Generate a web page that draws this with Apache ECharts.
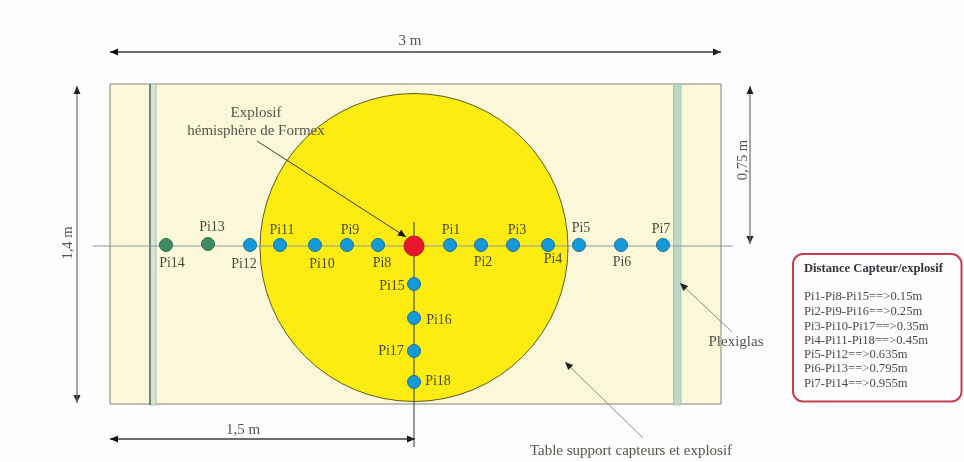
<!DOCTYPE html>
<html>
<head>
<meta charset="utf-8">
<title>Table support capteurs et explosif</title>
<script src="https://cdn.jsdelivr.net/npm/echarts@6/dist/echarts.min.js"></script>
<style>
  html, body { margin: 0; padding: 0; background: #fdfdfd; }
  #chart { width: 964px; height: 462px; filter: blur(0.6px); }
</style>
</head>
<body>
<div id="chart"></div>
<script>
const blueNames = ['Pi1', 'Pi2', 'Pi3', 'Pi4', 'Pi5', 'Pi6', 'Pi7', 'Pi8', 'Pi9', 'Pi10', 'Pi11', 'Pi12', 'Pi15', 'Pi16', 'Pi17', 'Pi18'];
const blueX = [450, 481, 513, 548, 579, 621, 663, 378, 347, 315, 280, 250, 414, 414, 414, 414];
const blueY = [245, 245, 245, 245, 245, 245, 245, 245, 245, 245, 245, 245, 284, 318, 351, 382];
const blueLabelX = [451, 483, 517, 553, 581, 622, 661, 382, 350, 322, 282, 244, 392, 439, 391, 438];
const blueLabelY = [230, 262, 230, 259, 228, 262, 229, 263, 230, 264, 230, 264, 286, 320, 351, 381];

const greenNames = ['Pi13', 'Pi14'];
const greenX = [208, 166];
const greenY = [244, 245];
const greenLabelX = [212, 172];
const greenLabelY = [227, 263];

const chargeX = [414];
const chargeY = [246];

const tableX = [110, 721];
const tableY = [84, 404];
const plexiLeftX = [150, 156];
const plexiRightX = [673.5, 681];
const plexiY = [84, 405];
const discCentre = [414, 247.5];
const discRadius = [154];

const axisH = [93, 733, 246];
const axisV = [414, 222, 447];

// x1, y1, x2, y2 (the head sits on x2, y2)
const dimArrows = [
  [110, 52, 721, 52],
  [721, 52, 110, 52],
  [110, 439, 415, 439],
  [415, 439, 110, 439],
  [257, 141, 406, 237]
];
const greyArrows = [
  [77, 86, 77, 403],
  [77, 403, 77, 86],
  [750, 86, 750, 244],
  [750, 244, 750, 86],
  [732, 332, 680, 283],
  [643, 438, 565, 362]
];

const noteText = ['3 m', '1,5 m', 'Explosif', 'hémisphère de Formex', 'Plexiglas', 'Table support capteurs et explosif'];
const noteX = [410, 243, 256, 256, 736, 631];
const noteY = [41, 430, 113, 131, 342, 451];

const sideText = ['1,4 m', '0,75 m'];
const sideX = [68, 743];
const sideY = [243, 160];

const boxX = [793, 961.5];
const boxY = [254, 401.5];
const boxTitle = ['Distance Capteur/explosif'];
const boxTitleX = [804];
const boxTitleY = [269];
const boxLines = [
  'Pi1-Pi8-Pi15==>0.15m',
  'Pi2-Pi9-Pi16==>0.25m',
  'Pi3-Pi10-Pi17==>0.35m',
  'Pi4-Pi11-Pi18==>0.45m',
  'Pi5-Pi12==>0.635m',
  'Pi6-Pi13==>0.795m',
  'Pi7-Pi14==>0.955m'
];
const boxLineX = [804, 804, 804, 804, 804, 804, 804];
const boxLineY = [297, 312, 327, 341, 355, 369, 384];

const serif = '"Liberation Serif", serif';

const rows = (...cols) => cols[0].map((_, i) => cols.map(c => c[i]));

const rectSeries = (xs, ys, z, style, radius) => ({
  type: 'custom',
  silent: true,
  z,
  data: [[xs[0], ys[0], xs[1], ys[1]]],
  renderItem: (params, api) => {
    const a = api.coord([api.value(0), api.value(1)]);
    const b = api.coord([api.value(2), api.value(3)]);
    return {
      type: 'rect',
      shape: { x: a[0], y: a[1], width: b[0] - a[0], height: b[1] - a[1], r: radius || 0 },
      style
    };
  }
});

const lineSeries = (data, z, stroke, width) => ({
  type: 'custom',
  silent: true,
  z,
  data,
  renderItem: (params, api) => {
    const a = api.coord([api.value(0), api.value(1)]);
    const b = api.coord([api.value(2), api.value(3)]);
    return {
      type: 'line',
      shape: { x1: a[0], y1: a[1], x2: b[0], y2: b[1] },
      style: { stroke, lineWidth: width }
    };
  }
});

const arrowSeries = (data, z, stroke, width, head) => ({
  type: 'custom',
  silent: true,
  z,
  data,
  renderItem: (params, api) => {
    const a = api.coord([api.value(0), api.value(1)]);
    const b = api.coord([api.value(2), api.value(3)]);
    const ang = Math.atan2(b[1] - a[1], b[0] - a[0]);
    const len = 8;
    const wing = 3.5;
    const bx = b[0] - Math.cos(ang) * len;
    const by = b[1] - Math.sin(ang) * len;
    const nx = -Math.sin(ang) * wing;
    const ny = Math.cos(ang) * wing;
    return {
      type: 'group',
      children: [
        { type: 'line', shape: { x1: a[0], y1: a[1], x2: b[0], y2: b[1] }, style: { stroke, lineWidth: width } },
        { type: 'polygon', shape: { points: [[b[0], b[1]], [bx + nx, by + ny], [bx - nx, by - ny]] }, style: { fill: head } }
      ]
    };
  }
});

const textSeries = (texts, xs, ys, z, font, fill, align, rotation) => ({
  type: 'custom',
  silent: true,
  z,
  data: rows(xs, ys),
  renderItem: (params, api) => {
    const p = api.coord([api.value(0), api.value(1)]);
    return {
      type: 'text',
      x: p[0],
      y: p[1],
      rotation: rotation || 0,
      style: { text: texts[params.dataIndex], x: 0, y: 0, font, fill, align, verticalAlign: 'middle' }
    };
  }
});

const dotSeries = (xs, ys, z, size, fill, border) => ({
  type: 'scatter',
  silent: true,
  z,
  symbol: 'circle',
  symbolSize: size,
  data: rows(xs, ys),
  itemStyle: { color: fill, borderColor: border, borderWidth: 1, opacity: 1 }
});

const discSeries = {
  type: 'custom',
  silent: true,
  z: 2,
  data: [[discCentre[0], discCentre[1], discRadius[0]]],
  renderItem: (params, api) => {
    const c = api.coord([api.value(0), api.value(1)]);
    const r = api.coord([api.value(0) + api.value(2), api.value(1)])[0] - c[0];
    return {
      type: 'circle',
      shape: { cx: c[0], cy: c[1], r },
      style: { fill: '#fdec12', stroke: '#5e5a1c', lineWidth: 1 }
    };
  }
};

const chart = echarts.init(document.getElementById('chart'));

chart.setOption({
  animation: false,
  backgroundColor: '#fdfdfd',
  grid: { left: 0, right: 0, top: 0, bottom: 0 },
  xAxis: { type: 'value', min: 0, max: 964, show: false },
  yAxis: { type: 'value', min: 0, max: 462, inverse: true, show: false },
  series: [
    rectSeries(tableX, tableY, 1, { fill: '#fbf8d9', stroke: '#85857a', lineWidth: 1 }),
    rectSeries(plexiLeftX, plexiY, 1, { fill: '#d6e6d6', stroke: '#a9bdb0', lineWidth: 1 }),
    rectSeries(plexiRightX, plexiY, 1, { fill: '#bfd9c9', stroke: '#a9c4b6', lineWidth: 1 }),
    lineSeries([[plexiLeftX[0], plexiY[0], plexiLeftX[0], plexiY[1]]], 1, '#4f5f58', 1.4),
    discSeries,
    lineSeries([[axisH[0], axisH[2], axisH[1], axisH[2]]], 3, '#8b9c9c', 1),
    lineSeries([[axisV[0], axisV[1], axisV[0], axisV[2]]], 3, '#55574a', 1.2),
    arrowSeries(dimArrows, 3, '#3c3c3c', 1, '#111'),
    arrowSeries(greyArrows, 3, '#8a8a86', 1, '#222'),
    dotSeries(blueX, blueY, 4, 13, '#149ad8', '#1b6f98'),
    dotSeries(greenX, greenY, 4, 13, '#3e8a62', '#2d6a4c'),
    dotSeries(chargeX, chargeY, 4, 20, '#e8172c', '#b01c24'),
    textSeries(blueNames, blueLabelX, blueLabelY, 5, '14px ' + serif, '#4a4a3c', 'center'),
    textSeries(greenNames, greenLabelX, greenLabelY, 5, '14px ' + serif, '#4a4a3c', 'center'),
    textSeries(noteText, noteX, noteY, 5, '15px ' + serif, '#55554c', 'center'),
    textSeries(sideText, sideX, sideY, 5, '14.5px ' + serif, '#55554c', 'center', Math.PI / 2),
    rectSeries(boxX, boxY, 6, { fill: '#fdfdfd', stroke: '#c5404f', lineWidth: 2 }, 10),
    textSeries(boxTitle, boxTitleX, boxTitleY, 7, 'bold 12.6px ' + serif, '#33333a', 'left'),
    textSeries(boxLines, boxLineX, boxLineY, 7, '12.6px ' + serif, '#4a4a4a', 'left')
  ]
});
</script>
</body>
</html>
